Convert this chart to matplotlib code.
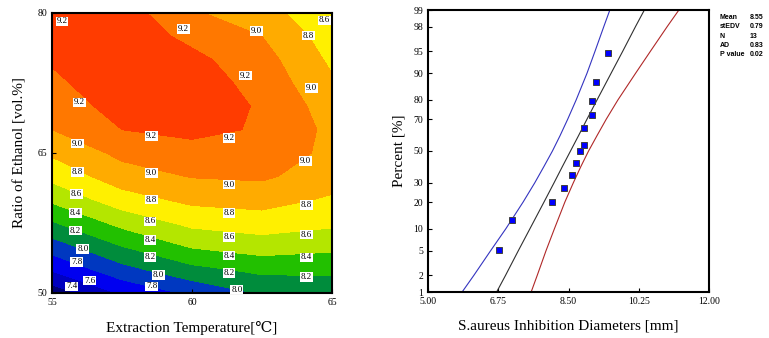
import numpy as np
import matplotlib
matplotlib.use("Agg")
import matplotlib.pyplot as plt
from statistics import NormalDist

plt.rcParams['font.family'] = ['Liberation Serif', 'DejaVu Serif']

# ---- left panel: response surface ----
temp = [55.0, 57.5, 60.0, 62.5, 65.0]
ethanol = [50.0, 52.5, 55.0, 57.5, 60.0, 62.5, 65.0, 67.5, 70.0, 72.5, 75.0, 77.5, 80.0]
# rows follow ethanol, columns follow temp
diameter_grid = [
    [7.28, 7.63, 7.84, 8.02, 8.05],
    [7.62, 7.93, 8.14, 8.25, 8.25],
    [7.90, 8.20, 8.42, 8.50, 8.45],
    [8.18, 8.46, 8.65, 8.70, 8.64],
    [8.44, 8.71, 8.85, 8.88, 8.77],
    [8.66, 8.91, 9.01, 9.03, 8.90],
    [8.83, 9.05, 9.13, 9.12, 8.95],
    [9.00, 9.20, 9.25, 9.18, 8.95],
    [9.08, 9.28, 9.30, 9.18, 8.90],
    [9.16, 9.32, 9.30, 9.13, 8.83],
    [9.22, 9.33, 9.25, 9.08, 8.76],
    [9.25, 9.32, 9.15, 9.00, 8.70],
    [9.26, 9.30, 9.02, 8.90, 8.60],
]
levels = [6.0, 7.4, 7.6, 7.8, 8.0, 8.2, 8.4, 8.6, 8.8, 9.0, 9.2, 10.0]
band_colors = ['#00007a', '#0000c0', '#0000f0', '#0038c0', '#008c3c', '#22c000',
               '#b4e600', '#fff000', '#ffab00', '#ff7800', '#ff3c00']
# contour labels as printed on the chart: (temp, ethanol, text)
contour_labels = [
    (55.36, 79.1, '9.2'), (59.69, 78.29, '9.2'), (62.30, 78.04, '9.0'),
    (64.74, 79.21, '8.6'), (64.15, 77.57, '8.8'), (61.91, 73.29, '9.2'),
    (64.26, 71.96, '9.0'), (55.99, 70.43, '9.2'), (58.56, 66.79, '9.2'),
    (61.32, 66.61, '9.2'), (55.91, 66.0, '9.0'), (64.05, 64.11, '9.0'),
    (58.56, 62.86, '9.0'), (61.32, 61.61, '9.0'), (55.91, 62.96, '8.8'),
    (55.86, 60.61, '8.6'), (55.83, 58.57, '8.4'), (55.83, 56.68, '8.2'),
    (56.1, 54.71, '8.0'), (55.89, 53.32, '7.8'), (56.34, 51.32, '7.6'),
    (55.71, 50.71, '7.4'), (58.56, 60.0, '8.8'), (58.5, 57.68, '8.6'),
    (58.5, 55.71, '8.4'), (58.5, 53.86, '8.2'), (58.8, 51.96, '8.0'),
    (58.56, 50.71, '7.8'), (61.32, 58.57, '8.8'), (61.32, 56.0, '8.6'),
    (61.32, 54.0, '8.4'), (61.32, 52.14, '8.2'), (61.6, 50.36, '8.0'),
    (64.09, 59.46, '8.8'), (64.09, 56.25, '8.6'), (64.09, 53.82, '8.4'),
    (64.09, 51.71, '8.2'),
]

# ---- right panel: normal probability plot ----
diam_obs = [6.78, 7.09, 8.08, 8.38, 8.59, 8.69, 8.79, 8.89, 8.89, 9.08, 9.08, 9.18, 9.48]
pct_obs = [5.2, 12.7, 20.0, 27.3, 34.9, 42.3, 50.0, 54.0, 64.7, 72.1, 79.6, 87.2, 94.7]
pct_ticks = [1, 2, 5, 10, 20, 30, 50, 70, 80, 90, 95, 98, 99]
pct_curve = [1, 2, 5, 10, 20, 30, 40, 50, 60, 70, 80, 90, 95, 98, 99]
fit_line = [6.71, 6.93, 7.25, 7.54, 7.89, 8.14, 8.35, 8.55, 8.75, 8.96, 9.21, 9.56,
            9.85, 10.17, 10.39]
lower_band = [5.85, 6.14, 6.56, 6.94, 7.37, 7.66, 7.89, 8.10, 8.29, 8.48, 8.69, 8.96,
              9.16, 9.38, 9.53]
upper_band = [7.57, 7.72, 7.94, 8.15, 8.41, 8.62, 8.81, 9.00, 9.21, 9.44, 9.73, 10.17,
              10.54, 10.96, 11.25]
x_ticks = [5.00, 6.75, 8.50, 10.25, 12.00]
stat_names = ['Mean', 'stEDV', 'N', 'AD', 'P value']
stat_values = ['8.55', '0.79', '13', '0.83', '0.02']

fig = plt.figure(figsize=(7.69, 3.38), dpi=100)

# left: contour
ax1 = fig.add_axes([52 / 769, 45 / 338, 280 / 769, 280 / 338])
X, Y = np.meshgrid(temp, ethanol)
Z = np.array(diameter_grid)
ax1.contourf(X, Y, Z, levels=levels, colors=band_colors)
for lx, ly, txt in contour_labels:
    ax1.text(lx, ly, txt, fontsize=6.5, ha='center', va='center',
             bbox=dict(facecolor='white', edgecolor='none', pad=0.6))
ax1.set_xlim(55, 65)
ax1.set_ylim(50, 80)
ax1.set_xticks([55, 60, 65])
ax1.set_yticks([50, 65, 80])
ax1.tick_params(direction='in', length=3, labelsize=7, width=0.8)
for s in ax1.spines.values():
    s.set_linewidth(1.5)
ax1.set_xlabel('Extraction Temperature[\u2103]', fontsize=11, labelpad=10)
ax1.set_ylabel('Ratio of Ethanol [vol.%]', fontsize=11, labelpad=8)

# right: probability plot
nd = NormalDist()
fwd = np.vectorize(lambda p: nd.inv_cdf(min(max(p / 100.0, 1e-9), 1 - 1e-9)),
                   otypes=[float])
inv = np.vectorize(lambda z: nd.cdf(z) * 100.0, otypes=[float])

ax2 = fig.add_axes([428 / 769, 46 / 338, 281 / 769, 282 / 338])
ax2.set_yscale('function', functions=(fwd, inv))
ax2.plot(lower_band, pct_curve, color='#3434c0', lw=0.8)
ax2.plot(fit_line, pct_curve, color='#303030', lw=0.8)
ax2.plot(upper_band, pct_curve, color='#b02828', lw=0.8)
ax2.plot(diam_obs, pct_obs, 's', ms=5, mfc='#0000ff', mec='#404040', mew=0.7)
ax2.set_xlim(5, 12)
ax2.set_ylim(1, 99)
ax2.set_yticks(pct_ticks)
ax2.set_yticklabels([str(p) for p in pct_ticks])
ax2.yaxis.set_minor_locator(matplotlib.ticker.NullLocator())
ax2.set_xticks(x_ticks)
ax2.set_xticklabels(['%.2f' % v for v in x_ticks])
ax2.tick_params(direction='in', length=3, labelsize=7, width=0.8)
for s in ax2.spines.values():
    s.set_linewidth(1.5)
ax2.set_xlabel('S.aureus Inhibition Diameters [mm]', fontsize=11, labelpad=10)
ax2.set_ylabel('Percent [%]', fontsize=11, labelpad=6)

for i, (n, v) in enumerate(zip(stat_names, stat_values)):
    ypos = 1 - (17.5 + 9.3 * i) / 338
    fig.text(720 / 769, ypos, n, fontsize=5, weight='bold',
             family='Liberation Sans', va='center')
    fig.text(750 / 769, ypos, v, fontsize=5, weight='bold',
             family='Liberation Sans', va='center')

fig.savefig('out.png', dpi=100)
